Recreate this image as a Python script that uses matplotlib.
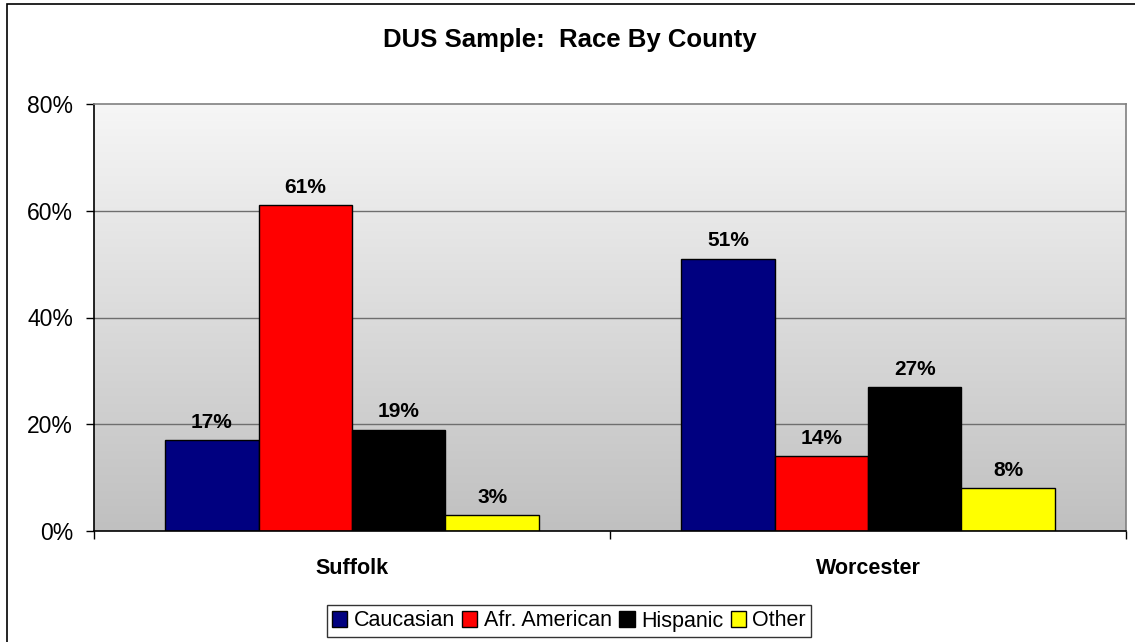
import numpy as np
import matplotlib.pyplot as plt
from matplotlib.patches import Rectangle
from matplotlib.colors import LinearSegmentedColormap
from matplotlib.ticker import FuncFormatter

plt.rcParams['font.family'] = ['Liberation Sans', 'DejaVu Sans']

counties = ["Suffolk", "Worcester"]
races = ["Caucasian", "Afr. American", "Hispanic", "Other"]
colors = ["#000080", "#ff0000", "#000000", "#ffff00"]
pct = {
    "Caucasian": [17, 51],
    "Afr. American": [61, 14],
    "Hispanic": [19, 27],
    "Other": [3, 8],
}

fig = plt.figure(figsize=(11.35, 6.42), dpi=100)
W, H = 1135, 642

# outer chart frame
fig.patches.append(Rectangle((7 / W, -0.01), 1.2, 1 - 4 / H + 0.01, transform=fig.transFigure,
                             fill=False, edgecolor="black", linewidth=1.2))

ax = fig.add_axes([94 / W, (H - 531) / H, (1126 - 94) / W, (531 - 104) / H])

# grey gradient plot area
grad = np.linspace(0, 1, 256).reshape(-1, 1)
ax.imshow(grad, extent=(0, 1, 0, 1), transform=ax.transAxes, aspect="auto",
          cmap=LinearSegmentedColormap.from_list("g", ["#c0c0c0", "#f6f6f6"]),
          origin="lower", zorder=0)

x = np.arange(len(counties))
w = 0.181
for i, r in enumerate(races):
    xs = x + (i - 1.5) * w
    ax.bar(xs, pct[r], width=w, color=colors[i], edgecolor="black", linewidth=1.0,
           label=r, zorder=3)
    for xi, v in zip(xs, pct[r]):
        ax.annotate(f"{v}%", (xi, v), xytext=(0, 6), textcoords="offset points",
                    ha="center", va="bottom", fontsize=15, fontweight="bold", zorder=4)

ax.set_xlim(-0.5, 1.5)
ax.set_ylim(0, 80)
ax.set_yticks([0, 20, 40, 60, 80])
ax.yaxis.set_major_formatter(FuncFormatter(lambda v, p: f"{v:.0f}%"))
ax.tick_params(axis="y", direction="out", length=6, width=1, labelsize=16.5, pad=9)
ax.set_xticks([-0.5, 0.5, 1.5])
ax.set_xticklabels([])
ax.tick_params(axis="x", direction="out", length=6, width=1)
for gy in [20, 40, 60]:
    ax.axhline(gy, color="#6e6e6e", linewidth=1.0, zorder=1)

ax.spines["left"].set_color("black")
ax.spines["bottom"].set_color("black")
ax.spines["top"].set_color("#808080")
ax.spines["right"].set_color("#808080")
for s in ax.spines.values():
    s.set_linewidth(1.2)
    s.set_zorder(5)

for xi, c in zip(x, counties):
    ax.text(xi, -7.0, c, ha="center", va="center", fontsize=15.5, fontweight="bold")

fig.text(570 / W, 1 - 40 / H, "DUS Sample:  Race By County", ha="center", va="center",
         fontsize=18.5, fontweight="bold")

leg = fig.legend(loc="center", bbox_to_anchor=(569 / W, 1 - 621 / H), ncol=4,
                 fontsize=15.5, frameon=True, fancybox=False, handlelength=0.7,
                 handleheight=0.7, handletextpad=0.3, columnspacing=0.35,
                 borderpad=0.25, borderaxespad=0)
leg.get_frame().set_edgecolor("black")
leg.get_frame().set_linewidth(1.0)

fig.savefig("out.png", dpi=100)
